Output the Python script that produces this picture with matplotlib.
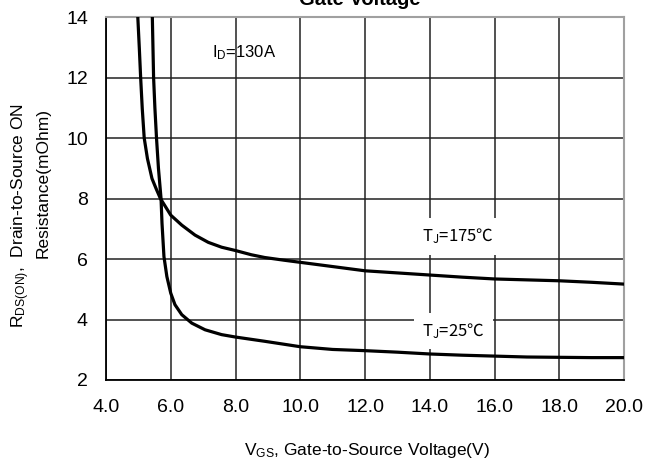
import numpy as np
import matplotlib
matplotlib.use("Agg")
import matplotlib.pyplot as plt

plt.rcParams['font.family'] = ['Liberation Sans', 'DejaVu Sans']
plt.rcParams['mathtext.fontset'] = 'custom'
plt.rcParams['mathtext.rm'] = 'Liberation Sans'
plt.rcParams['mathtext.it'] = 'Liberation Sans'

# ---------------------------
# RDS(ON) vs VGS, ID = 130A
# ---------------------------
vgs_175 = [4.97, 4.98, 5.03, 5.07, 5.12, 5.18, 5.28, 5.42, 5.55, 5.68, 6.0, 6.34,
           6.75, 7.16, 7.57, 8.0, 8.49, 8.90, 9.5, 10.0, 11.0, 12.0, 13.0, 14.0,
           15.0, 16.0, 17.0, 18.0, 19.0, 20.0]
rds_175 = [14.5, 14.05, 12.95, 12.0, 10.97, 10.0, 9.32, 8.66, 8.32, 8.0, 7.45, 7.12,
           6.79, 6.55, 6.39, 6.28, 6.14, 6.05, 5.96, 5.89, 5.75, 5.61, 5.54, 5.47,
           5.40, 5.34, 5.31, 5.28, 5.23, 5.17]

vgs_25 = [5.42, 5.43, 5.47, 5.51, 5.56, 5.62, 5.70, 5.73, 5.79, 5.88, 6.0, 6.13,
          6.34, 6.65, 7.06, 7.57, 8.0, 8.90, 10.0, 11.0, 12.0, 13.0, 14.0, 15.0,
          16.0, 17.0, 18.0, 19.0, 20.0]
rds_25 = [14.5, 14.05, 12.0, 11.0, 10.0, 9.0, 8.0, 7.18, 6.08, 5.42, 4.87, 4.49,
          4.16, 3.88, 3.66, 3.50, 3.42, 3.28, 3.10, 3.01, 2.97, 2.92, 2.86, 2.82,
          2.79, 2.76, 2.75, 2.74, 2.74]

x_ticks = [4, 6, 8, 10, 12, 14, 16, 18, 20]
y_ticks = [2, 4, 6, 8, 10, 12, 14]

# ---------------------------
# 그래프
# ---------------------------
fig = plt.figure(figsize=(6.57, 4.63), dpi=100)
ax = fig.add_axes([106 / 657, 83 / 463, 518 / 657, 363 / 463])

ax.plot(vgs_175, rds_175, color='black', lw=2.3, solid_joinstyle='round', zorder=3)
ax.plot(vgs_25, rds_25, color='black', lw=2.3, solid_joinstyle='round', zorder=3)

ax.set_xlim(4, 20)
ax.set_ylim(2, 14)
ax.set_xticks(x_ticks)
ax.set_xticklabels([f"{t:.1f}" for t in x_ticks])
ax.set_yticks(y_ticks)
ax.tick_params(axis='both', length=0, labelsize=14)
ax.tick_params(axis='y', pad=13)
ax.tick_params(axis='x', pad=14)

ax.grid(True, color='#222222', lw=1.1, zorder=1)
ax.set_axisbelow(True)
for side in ('left', 'bottom'):
    ax.spines[side].set_color('black')
    ax.spines[side].set_linewidth(1.3)
for side in ('top', 'right'):
    ax.spines[side].set_color('#a0a0a0')
    ax.spines[side].set_linewidth(1.5)

ax.text(7.28, 12.81, r'$\mathregular{I_D}$=130A', fontsize=12, ha='left', va='center')

# 온도 라벨: ℃ 글리프가 있는 CJK 폰트 사용
box = dict(facecolor='white', edgecolor='none', pad=6)
ax.text(13.77, 6.74, r'$\mathregular{T_J}$=175℃', fontsize=12, ha='left', va='center',
        family='Noto Sans CJK SC', bbox=box, zorder=4)
ax.text(13.77, 3.62, r'$\mathregular{T_J}$=25℃', fontsize=12, ha='left', va='center',
        family='Noto Sans CJK SC', bbox=box, zorder=4)

fig.text(21 / 657, 1 - 216 / 463, r'$\mathregular{R_{DS(ON)}}$,  Drain-to-Source ON',
         rotation=90, fontsize=12.5, ha='center', va='center')
fig.text(43 / 657, 1 - 183 / 463, 'Resistance(mOhm)',
         rotation=90, fontsize=12.5, ha='center', va='center')
fig.text(367 / 657, 1 - 450 / 463, r'$\mathregular{V_{GS}}$, Gate-to-Source Voltage(V)',
         fontsize=12.5, ha='center', va='center')

fig.text(360 / 657, 1 - 4.7 / 463, 'Gate Voltage', fontsize=14.5, fontweight='bold',
         ha='center', va='baseline')

fig.savefig('out.png', dpi=100)
